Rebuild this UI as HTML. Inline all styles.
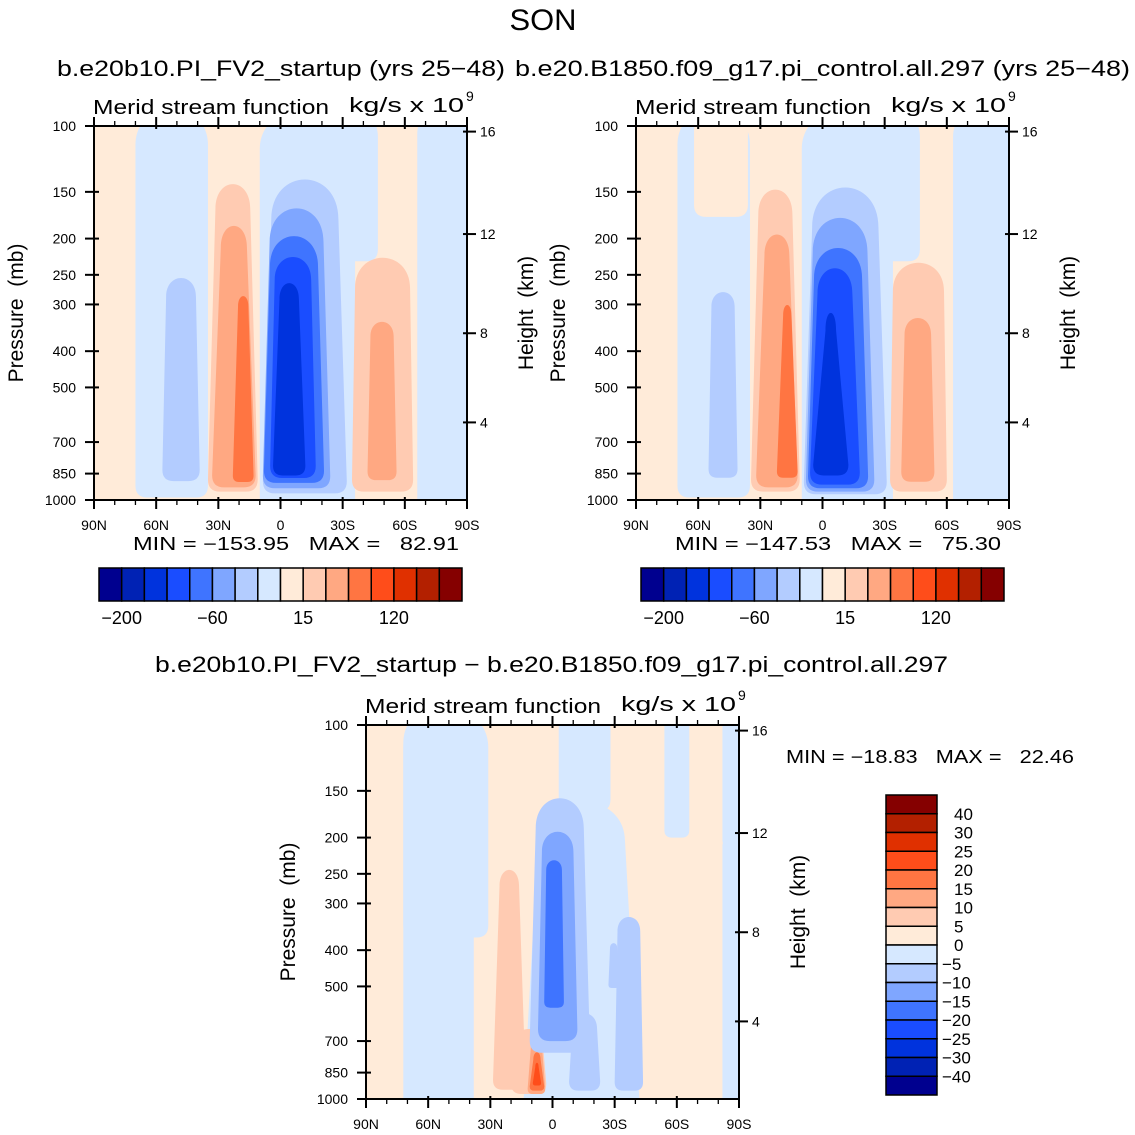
<!DOCTYPE html>
<html><head><meta charset="utf-8"><style>
html,body{margin:0;padding:0;background:#fff;}
svg{display:block;font-family:"Liberation Sans",sans-serif;}
text{white-space:pre;}
</style></head><body>
<svg id="root" width="1135" height="1135" viewBox="0 0 1135 1135" xmlns="http://www.w3.org/2000/svg">
<text x="543" y="30" font-size="30" text-anchor="middle" textLength="67" lengthAdjust="spacingAndGlyphs">SON</text>
<text x="57" y="76" font-size="22" textLength="448" lengthAdjust="spacingAndGlyphs">b.e20b10.PI_FV2_startup (yrs 25−48)</text>
<text x="515" y="76" font-size="22" textLength="615" lengthAdjust="spacingAndGlyphs">b.e20.B1850.f09_g17.pi_control.all.297 (yrs 25−48)</text>
<text x="155" y="672" font-size="22" textLength="793" lengthAdjust="spacingAndGlyphs">b.e20b10.PI_FV2_startup − b.e20.B1850.f09_g17.pi_control.all.297</text>
</svg>
<script>
// ---- data ----
const colors = ["#00008f","#0022b4","#0033dd","#1a4dff","#3f74ff","#7fa6ff","#b3ccff","#d6e8ff","#ffebd9","#ffcbb2","#ffa882","#ff7542","#ff4d1a","#e03000","#b32000","#850000"];
const pressureTicks = [100,150,200,250,300,400,500,700,850,1000];
const heightTicks = [16,12,8,4];
const latTicks = [90,60,30,0,-30,-60,-90];
const latTickLabels = ["90N","60N","30N","0","30S","60S","90S"];
const hbarLabels = ["−200","−60","15","120"];
const hbarLabelIdx = [1,5,9,13];
const vbarLabels = ["40","30","25","20","15","10","5","0","−5","−10","−15","−20","−25","−30","−40"];

// left panel blobs
const L_latL = [70, 57, 10, -20, -66, 35, 33, 23, 8.5, 8.5, 8, 5, 3.6, -34.5, -42];
const L_latR = [35, 39, -36, -47, -90, 11, 12, 13, -32, -24, -21, -17, -12, -64, -56];
const L_pTop = [90, 255, 90, 90, 90, 143, 185, 285, 139, 166, 197, 224, 263, 225, 334];
const L_pBot = [985, 890, 1100, 230, 1100, 950, 925, 895, 960, 930, 900, 873, 860, 950, 885];
const L_lvl  = [7, 6, 7, 7, 7, 9, 10, 11, 6, 5, 4, 3, 2, 9, 10];
const L_taper= [1, 0.8, 1, 1, 1, 0.7, 0.6, 0.5, 0.8, 0.8, 0.8, 0.8, 0.6, 0.9, 0.8];
// right panel blobs
const R_latL = [70, 62, 55, 10, -20, -63, 34.5, 32, 22, 9, 8, 7, 6, 4.5, -32.6, -38];
const R_latR = [35, 36, 41, -34, -47, -90, 11, 12, 12, -31, -25, -22, -18, -12.5, -60, -54];
const R_pTop = [90, 90, 278, 90, 90, 90, 148, 195, 301, 146, 176, 212, 240, 316, 232, 326];
const R_pBot = [985, 175, 872, 1100, 230, 1100, 950, 925, 872, 965, 950, 930, 910, 860, 950, 894];
const R_lvl  = [7, 8, 6, 7, 7, 7, 9, 10, 11, 6, 5, 4, 3, 2, 9, 10];
const R_taper= [1, 1, 0.8, 1, 1, 1, 0.7, 0.6, 0.4, 0.8, 0.8, 0.8, 0.7, 0.3, 0.9, 0.8];
// difference panel blobs
const D_latL = [72, 72, 14, -3, 28.7, 20, 12, 11, 9.5, 11, -8, 7, 4, -30, -27, -54, -82, -82];
const D_latR = [38, 31, -42, -28, 13, 3, 3.5, 4, 5.5, -18, -23, -12, -5.5, -43.7, -32, -66, -90, -90];
const D_pTop = [90, 90, 160, 90, 244, 650, 673, 750, 800, 157, 590, 193, 230, 326, 383, 90, 200, 90];
const D_pBot = [1100, 370, 1100, 170, 945, 970, 970, 950, 920, 752, 950, 700, 570, 950, 505, 200, 1100, 210];
const D_lvl  = [7, 7, 7, 7, 9, 9, 10, 11, 12, 6, 6, 5, 4, 6, 6, 7, 7, 7];
const D_taper= [1, 1, 0.75, 1, 0.6, 0.8, 0.6, 0.5, 0.4, 0.8, 0.8, 0.8, 0.8, 0.8, 0.7, 1, 1, 1];

// ---- drawing ----
const NS = "http://www.w3.org/2000/svg";
const root = document.getElementById("root");
function mk(tag, attrs, parent) {
  const e = document.createElementNS(NS, tag);
  for (const k in attrs) e.setAttribute(k, attrs[k]);
  (parent || root).appendChild(e);
  return e;
}
// standard atmosphere height (km) -> pressure (mb)
function zToP(z) {
  const m = z * 1000;
  if (m <= 11000) return 1013.25 * Math.pow(1 - 2.25577e-5 * m, 5.25588);
  return 226.32 * Math.exp(-(m - 11000) / 6341.6);
}
function panel(ox, oy, name, latL, latR, pTop, pBot, lvl, taper, minmax) {
  const W = 373, H = 374;
  const g = mk("g", {});
  
  
  const xs = lat => ox + (90 - lat) / 180 * W;
  const ys = p => oy + Math.log10(p / 100) * H;
  const yz = z => ys(zToP(z)) + 1;
  const cid = "clip-" + name;
  const cp = mk("clipPath", { id: cid }, g);
  mk("rect", { x: ox, y: oy, width: W, height: H }, cp);
  const field = mk("g", { "clip-path": "url(#" + cid + ")" }, g);
  
  
  mk("rect", { x: ox, y: oy, width: W, height: H, fill: colors[8] }, field);
  for (let i = 0; i < latL.length; i++) {
    const xL = xs(latL[i]), xR = xs(latR[i]), yT = ys(pTop[i]), yB = ys(pBot[i]);
    const w = xR - xL, h = yB - yT, cx = (xL + xR) / 2;
    const tw = w * taper[i] / 2;
    const xLt = cx - tw, xRt = cx + tw;
    const r = Math.min(w * 0.3, 12, h * 0.2);
    const k = Math.min(w * 0.5, h * 0.2, 40);
    const d = `M ${xL} ${yB - r} Q ${xL} ${yB} ${xL + r} ${yB} L ${xR - r} ${yB} Q ${xR} ${yB} ${xR} ${yB - r} ` +
      `L ${xRt} ${yT + k} C ${xRt} ${yT - k / 3} ${xLt} ${yT - k / 3} ${xLt} ${yT + k} Z`;
    const pth = mk("path", { d: d, fill: colors[lvl[i]] }, field);
    
    
  }
  const ax = mk("g", { stroke: "#000", "stroke-width": 2, fill: "none" }, g);
  
  
  mk("rect", { x: ox, y: oy, width: W, height: H }, ax);
  for (let lat = 90; lat >= -90; lat -= 10) {
    const x = xs(lat), major = lat % 30 === 0;
    const len = major ? 9 : 5;
    mk("line", { x1: x, y1: oy - len, x2: x, y2: oy + (major ? 3 : 0), "stroke-width": major ? 2 : 1.3 }, ax);
    mk("line", { x1: x, y1: oy + H + len, x2: x, y2: oy + H - (major ? 3 : 0), "stroke-width": major ? 2 : 1.3 }, ax);
  }
  for (const p of pressureTicks) {
    mk("line", { x1: ox - 9, y1: ys(p), x2: ox + 5, y2: ys(p) }, ax);
  }
  for (const z of heightTicks) {
    mk("line", { x1: ox + W - 4, y1: yz(z), x2: ox + W + 9, y2: yz(z) }, ax);
  }
  const tx = mk("g", { "font-size": 14, fill: "#000" }, g);
  pressureTicks.forEach(p => {
    const t = mk("text", { x: ox - 18, y: ys(p) + 5, "text-anchor": "end" }, tx);
    t.textContent = p;
    
    
  });
  heightTicks.forEach(z => {
    const t = mk("text", { x: ox + W + 13, y: yz(z) + 5 }, tx);
    t.textContent = z;
    
    
  });
  latTicks.forEach((lat, i) => {
    const t = mk("text", { x: xs(lat), y: oy + H + 30, "text-anchor": "middle" }, tx);
    t.textContent = latTickLabels[i];
    
    
  });
  const t1 = mk("text", { x: ox - 1, y: oy - 12, "font-size": 20, textLength: 236, lengthAdjust: "spacingAndGlyphs" }, g);
  t1.textContent = "Merid stream function";
  
  
  const t2 = mk("text", { x: ox + 255, y: oy - 14, "font-size": 20, textLength: 115, lengthAdjust: "spacingAndGlyphs" }, g);
  t2.textContent = "kg/s x 10";
  
  
  const t3 = mk("text", { x: ox + 372, y: oy - 25, "font-size": 14 }, g);
  t3.textContent = "9";
  
  
  const yl = mk("text", { x: 0, y: 0, "font-size": 21, "text-anchor": "middle", transform: `translate(${ox - 71},${oy + 187}) rotate(-90)` }, g);
  yl.textContent = "Pressure  (mb)";
  
  
  const yr = mk("text", { x: 0, y: 0, "font-size": 21, "text-anchor": "middle", transform: `translate(${ox + W + 66},${oy + 187}) rotate(-90)` }, g);
  yr.textContent = "Height  (km)";
  
  
  if (minmax) {
    const m = mk("text", { x: ox + 39, y: oy + H + 50, "font-size": 18, textLength: 326, lengthAdjust: "spacingAndGlyphs" }, g);
    m.textContent = minmax;
    
    
  }
}
function hbar(ox, oy, name) {
  const g = mk("g", {});
  
  
  const bw = 363 / 16;
  colors.forEach((c, i) => {
    const r = mk("rect", { x: ox + i * bw, y: oy, width: bw, height: 33, fill: c, stroke: "#000", "stroke-width": 1.5 }, g);
    
    
  });
  hbarLabelIdx.forEach((b, i) => {
    const t = mk("text", { x: ox + b * bw, y: oy + 56, "font-size": 18, "text-anchor": "middle" }, g);
    t.textContent = hbarLabels[i];
    
    
  });
}
function vbar(ox, oy, name) {
  const g = mk("g", {});
  
  
  const bh = 300 / 16;
  colors.slice().reverse().forEach((c, i) => {
    const r = mk("rect", { x: ox, y: oy + i * bh, width: 51, height: bh, fill: c, stroke: "#000", "stroke-width": 1.5 }, g);
    
    
  });
  vbarLabels.forEach((l, i) => {
    const t = mk("text", { x: ox + 56 + (l.startsWith("−") ? 0 : 12), y: oy + (i + 1) * bh + 6, "font-size": 17 }, g);
    t.textContent = l;
    
    
  });
}
panel(94, 126, "left-panel", L_latL, L_latR, L_pTop, L_pBot, L_lvl, L_taper, "MIN = −153.95   MAX =   82.91");
panel(636, 126, "right-panel", R_latL, R_latR, R_pTop, R_pBot, R_lvl, R_taper, "MIN = −147.53   MAX =   75.30");
panel(366, 725, "diff-panel", D_latL, D_latR, D_pTop, D_pBot, D_lvl, D_taper, null);
hbar(99, 568, "left-colorbar");
hbar(641, 568, "right-colorbar");
vbar(886, 795, "diff-colorbar");
const mm = mk("text", { x: 786, y: 763, "font-size": 18, textLength: 288, lengthAdjust: "spacingAndGlyphs" });
mm.textContent = "MIN = −18.83   MAX =   22.46";


</script>
</body></html>
